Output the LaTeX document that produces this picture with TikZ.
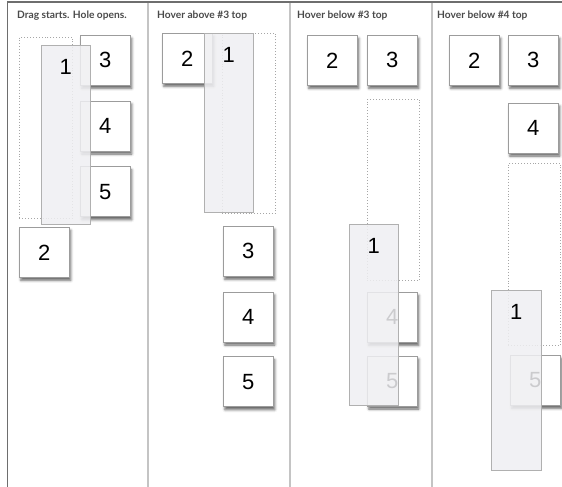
\documentclass[tikz,border=0pt]{standalone}
\usepackage{fontspec}
\setsansfont{Liberation Sans}
\newfontfamily\titlefont[BoldFont={Lato Bold}]{Lato}
\usetikzlibrary{positioning,shadows.blur}
\definecolor{framegray}{HTML}{6E6E6E}
\definecolor{rulegray}{HTML}{C4C4C4}
\definecolor{tileedge}{HTML}{9C9C9C}
\definecolor{dragfill}{HTML}{EFEFF2}
\definecolor{holegray}{HTML}{A6A6A6}
\definecolor{titlegray}{HTML}{4A4A4A}

\begin{document}
\begin{tikzpicture}[
    x=1pt, y=-1pt,
    title/.style={
      anchor=west, inner sep=0pt, text=titlegray,
      font=\titlefont\bfseries\fontsize{10.2}{11}\selectfont
    },
    tile/.style={
      rectangle, draw=tileedge, fill=white, line width=0.7pt,
      minimum width=50pt, minimum height=50pt, inner sep=0pt,
      anchor=north west,
      font=\sffamily\fontsize{22}{22}\selectfont,
      blur shadow={shadow xshift=1.5pt, shadow yshift=-3pt,
        shadow blur radius=2.5pt, shadow opacity=60}
    },
    dragtile/.style={
      rectangle, draw=tileedge!80, fill=dragfill, fill opacity=0.85,
      line width=0.7pt, minimum width=49pt, minimum height=179pt,
      inner sep=0pt, anchor=north west
    },
    digit/.style={font=\sffamily\fontsize{22}{22}\selectfont, inner sep=0pt},
    hole/.style={
      rectangle, draw=holegray, dotted, line width=0.9pt,
      inner sep=0pt, anchor=north west
    },
    frame/.style={draw=framegray, line width=1.3pt},
    divider/.style={draw=rulegray, line width=1.6pt},
  ]
  \useasboundingbox (0,0) rectangle (562,487);

  % --- Frame and dividers ---
  \draw[frame] (7.5,487) -- (7.5,2) -- (562,2);
  \foreach \x in {148,290,432}
    \draw[divider] (\x,3) -- (\x,487);

  % --- Titles ---
  \node[title] (p1title) at (17,16) {Drag starts. Hole opens.};
  \node[title] (p2title) at (157,16) {Hover above \#3 top};
  \node[title] (p3title) at (297,16) {Hover below \#3 top};
  \node[title] (p4title) at (437,16) {Hover below \#4 top};

  % --- Panel 1 ---
  \node[hole, minimum width=53pt, minimum height=181pt] (p1hole) at (19,37) {};
  \node[tile] (p1three) at (80,35) {3};
  \node[tile, below=15pt of p1three] (p1four) {4};
  \node[tile, below=15pt of p1four] (p1five) {5};
  \node[tile] (p1two) at (19,227) {2};
  \node[dragtile] (p1drag) at (41,45) {};
  \node[digit] (p1one) at ([yshift=-22pt]p1drag.north) {1};

  % --- Panel 2 ---
  \node[tile] (p2two) at (162,33) {2};
  \node[hole, minimum width=53pt, minimum height=180pt] (p2hole) at (222,33) {};
  \node[dragtile] (p2drag) at (204,33) {};
  \node[digit] (p2one) at ([yshift=-22pt]p2drag.north) {1};
  \node[tile] (p2three) at (223,226) {3};
  \node[tile, below=15pt of p2three] (p2four) {4};
  \node[tile, below=14pt of p2four] (p2five) {5};

  % --- Panel 3 ---
  \node[tile] (p3two) at (307,35) {2};
  \node[tile] (p3three) at (367,35) {3};
  \node[hole, minimum width=52pt, minimum height=181pt] (p3hole) at (367,99) {};
  \node[tile] (p3four) at (367,292) {4};
  \node[tile, below=13pt of p3four] (p3five) {5};
  \node[dragtile, minimum height=181pt] (p3drag) at (349,224) {};
  \node[digit] (p3one) at ([yshift=-22pt]p3drag.north) {1};

  % --- Panel 4 ---
  \node[tile] (p4two) at (449,35) {2};
  \node[tile] (p4three) at (508,35) {3};
  \node[tile, below=17pt of p4three] (p4four) {4};
  \node[hole, minimum width=52pt, minimum height=182pt] (p4hole) at (508,163) {};
  \node[tile] (p4five) at (510,355) {5};
  \node[dragtile, minimum width=50pt, minimum height=180pt] (p4drag) at (491,290) {};
  \node[digit] (p4one) at ([yshift=-22pt]p4drag.north) {1};

\end{tikzpicture}
\end{document}
